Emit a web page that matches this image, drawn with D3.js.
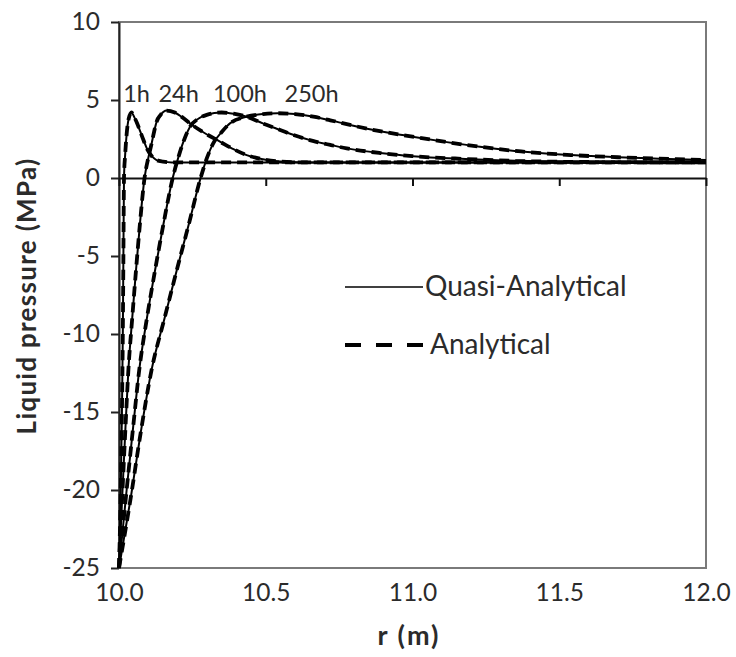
<!DOCTYPE html>
<html>
<head>
<meta charset="utf-8">
<script src="https://cdn.jsdelivr.net/npm/d3@7"></script>
<style>
  body { margin: 0; background: #fff; }
  svg text { font-family: Lato, "Open Sans", sans-serif; fill: #2b2b2b; }
</style>
</head>
<body>
<svg id="chart" width="736" height="657"></svg>
<script>
// pressure profiles, [r (m), p (MPa)]
var curve1h = [[10.000,-25],[10.006,-20],[10.010,-15],[10.013,-10],[10.015,-5],[10.017,0],
  [10.021,1.5],[10.026,2.8],[10.033,3.8],[10.043,4.2],[10.052,3.9],[10.062,3.5],[10.072,3.0],
  [10.084,2.4],[10.096,1.85],[10.112,1.4],[10.128,1.15],[10.15,1.05],[10.18,1.0],[10.25,1.0],[12.0,1.0]];
var curve24h = [[10.000,-25],[10.012,-20],[10.022,-16],[10.032,-12.3],[10.045,-9],[10.058,-5.9],
  [10.072,-2.8],[10.087,0],[10.100,1.3],[10.111,2.2],[10.120,3.0],[10.128,3.6],[10.142,4.05],
  [10.162,4.32],[10.19,4.2],[10.215,3.9],[10.242,3.5],[10.29,2.9],[10.344,2.33],[10.39,1.85],
  [10.435,1.47],[10.49,1.2],[10.55,1.05],[10.62,1.0],[12.0,1.0]];
var curve100h = [[10.000,-25],[10.026,-20],[10.048,-16],[10.069,-12.3],[10.095,-9],[10.123,-5.9],
  [10.152,-2.9],[10.183,0],[10.205,1.5],[10.225,2.6],[10.242,3.29],[10.27,3.8],[10.299,4.05],
  [10.35,4.2],[10.39,4.12],[10.435,3.93],[10.49,3.5],[10.549,3.08],[10.6,2.72],[10.66,2.38],
  [10.72,2.12],[10.776,1.9],[10.89,1.6],[11.0,1.4],[11.18,1.22],[11.35,1.1],[11.5,1.04],[12.0,1.0]];
var curve250h = [[10.000,-25],[10.04,-20.5],[10.075,-16.2],[10.111,-12.3],[10.155,-9],[10.197,-5.9],
  [10.24,-2.8],[10.278,0],[10.3,1.3],[10.321,2.22],[10.35,2.95],[10.378,3.5],[10.435,3.93],
  [10.49,4.1],[10.54,4.15],[10.6,4.1],[10.662,3.93],[10.72,3.7],[10.776,3.45],[10.889,3.0],
  [11.0,2.65],[11.117,2.3],[11.23,2.0],[11.37,1.7],[11.54,1.47],[11.7,1.33],[11.84,1.24],[12.0,1.15]];

var curves = [curve1h, curve24h, curve100h, curve250h];
var timeLabels = ["1h", "24h", "100h", "250h"];
var timeLabelR = [10.060, 10.203, 10.412, 10.656];
var xTicks = [10.0, 10.5, 11.0, 11.5, 12.0];
var yTicks = [10, 5, 0, -5, -10, -15, -20, -25];
var legendNames = ["Quasi-Analytical", "Analytical"];

var svg = d3.select("#chart"),
    pL = 119, pR = 706, pT = 22, pB = 568;

var x = d3.scaleLinear().domain([10, 12]).range([pL, pR]);
var y = d3.scaleLinear().domain([-25, 10]).range([pB, pT]);

// plot frame
svg.append("rect")
  .attr("x", pL).attr("y", pT)
  .attr("width", pR - pL).attr("height", pB - pT)
  .attr("fill", "none").attr("stroke", "#7a7a7a").attr("stroke-width", 2);

// left axis (plain hyphen for negatives)
var yAxis = svg.append("g")
  .attr("transform", "translate(" + pL + ",0)")
  .call(d3.axisLeft(y).tickValues(yTicks).tickSize(8).tickPadding(11).tickSizeOuter(0)
    .tickFormat(function(d) { return String(d); }));
yAxis.select(".domain").attr("stroke", "#222").attr("stroke-width", 2);
yAxis.selectAll(".tick line").attr("stroke", "#222").attr("stroke-width", 2);
yAxis.selectAll("text").attr("font-size", 24.5).attr("font-family", null).style("fill", "#2b2b2b");

// axis line through zero, ticks pointing down
var zAxis = svg.append("g")
  .attr("transform", "translate(0," + y(0) + ")")
  .call(d3.axisBottom(x).tickValues(xTicks).tickSize(8).tickSizeOuter(0).tickFormat(""));
zAxis.select(".domain").attr("stroke", "#111").attr("stroke-width", 2);
zAxis.selectAll(".tick line").attr("stroke", "#111").attr("stroke-width", 2);

// x tick labels at the bottom
var xLab = svg.append("g")
  .attr("transform", "translate(0," + pB + ")")
  .call(d3.axisBottom(x).tickValues(xTicks).tickSize(0).tickPadding(16).tickFormat(d3.format(".1f")));
xLab.select(".domain").remove();
xLab.selectAll("text").attr("font-size", 24.5).attr("font-family", null).style("fill", "#2b2b2b");

// axis titles
svg.append("text")
  .attr("x", 409).attr("y", 645)
  .attr("text-anchor", "middle")
  .attr("font-size", 27).attr("font-weight", "bold")
  .attr("letter-spacing", 2)
  .text("r (m)");
svg.append("text")
  .attr("transform", "translate(36,296) rotate(-90)")
  .attr("text-anchor", "middle")
  .attr("font-size", 26).attr("font-weight", "bold")
  .attr("letter-spacing", 1.3)
  .text("Liquid pressure (MPa)");

var line = d3.line()
  .x(function(d) { return x(d[0]); })
  .y(function(d) { return y(d[1]); })
  .curve(d3.curveMonotoneX);

var plot = svg.append("g");

// quasi-analytical (solid)
plot.selectAll(".solid").data(curves).enter()
  .append("path")
  .attr("class", "solid")
  .attr("d", line)
  .attr("fill", "none").attr("stroke", "#000").attr("stroke-width", 2);

// analytical (dashed)
plot.selectAll(".dashed").data(curves).enter()
  .append("path")
  .attr("class", "dashed")
  .attr("d", line)
  .attr("fill", "none").attr("stroke", "#000").attr("stroke-width", 3.8)
  .attr("stroke-dasharray", "10,6");

// time labels
svg.selectAll(".tlab").data(timeLabels).enter()
  .append("text")
  .attr("class", "tlab")
  .attr("x", function(d, i) { return x(timeLabelR[i]); })
  .attr("y", 102)
  .attr("text-anchor", "middle")
  .attr("font-size", 23.5)
  .text(function(d) { return d; });

// legend
var legend = svg.append("g");
legend.selectAll("line").data(legendNames).enter()
  .append("line")
  .attr("x1", 345).attr("x2", 423)
  .attr("y1", function(d, i) { return 287 + i * 58; })
  .attr("y2", function(d, i) { return 287 + i * 58; })
  .attr("stroke", "#000")
  .attr("stroke-width", function(d, i) { return i ? 4 : 1.5; })
  .attr("stroke-dasharray", function(d, i) { return i ? "16,15" : null; });
legend.selectAll("text").data(legendNames).enter()
  .append("text")
  .attr("x", function(d, i) { return i ? 430 : 425; })
  .attr("y", function(d, i) { return 296 + i * 58; })
  .attr("font-size", 28)
  .text(function(d) { return d; });
</script>
</body>
</html>
